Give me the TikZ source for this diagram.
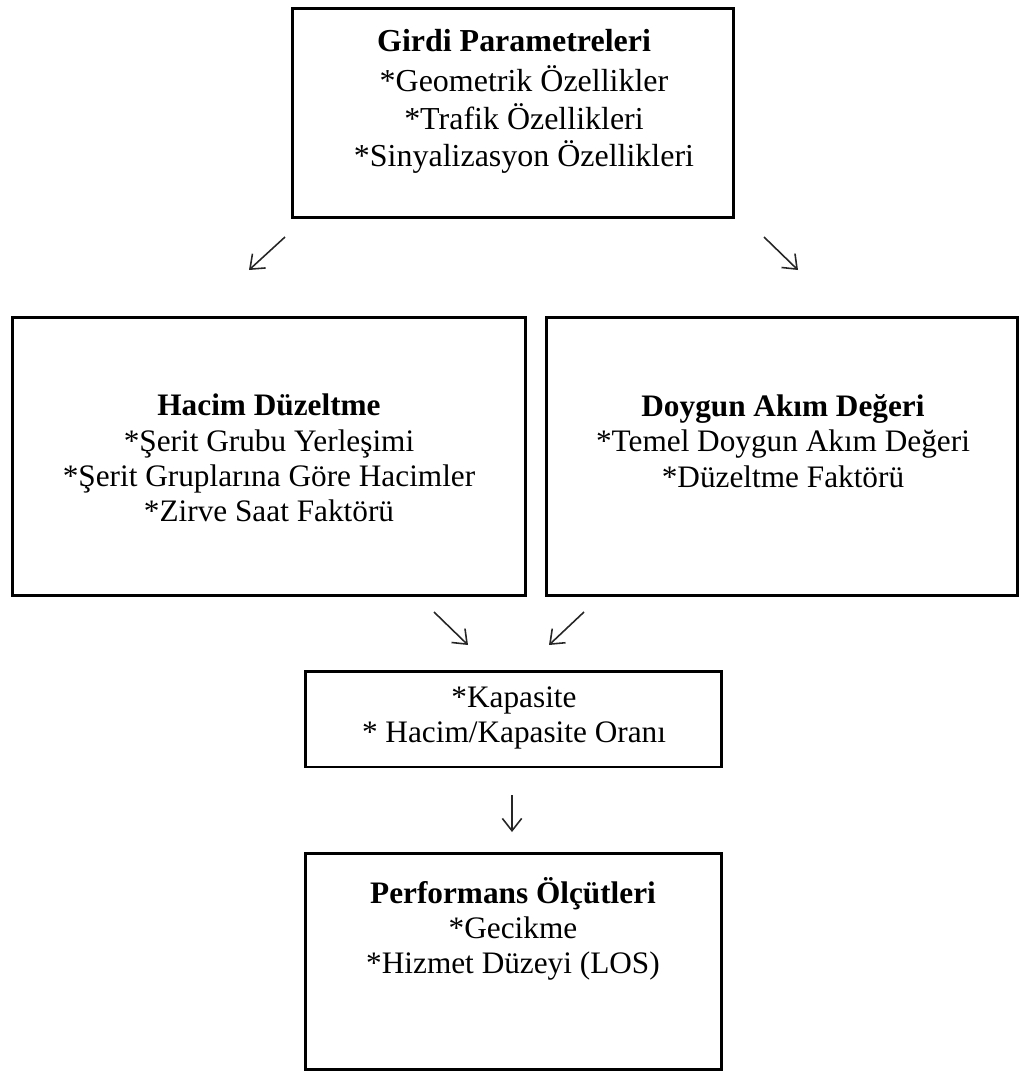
\documentclass[tikz,border=0pt]{standalone}
\usepackage{fontspec}
\setmainfont{Liberation Serif}
\usetikzlibrary{arrows.meta}
\begin{document}
\begin{tikzpicture}[x=0.02cm,y=-0.02cm,
  boxnode/.style={draw=black,line width=1.7pt,rectangle,inner sep=0pt},
  txt/.style={align=center,font=\fontsize{17.8}{20}\selectfont,inner sep=0pt},
  toptxtstyle/.style={align=center,font=\fontsize{18.2}{21.2}\selectfont,inner sep=0pt},
  arr/.style={line width=0.9pt,color=black!85,-{Straight Barb[length=7pt,width=11pt]}}]
\useasboundingbox (0,0) rectangle (1020,1083);
% boxes
\node[boxnode,minimum width=8.84cm,minimum height=4.2cm] (top) at (513,113) {};
\node[boxnode,minimum width=10.28cm,minimum height=5.58cm] (left) at (269,456.5) {};
\node[boxnode,minimum width=9.44cm,minimum height=5.58cm] (right) at (782,456.5) {};
\node[boxnode,minimum width=8.34cm,minimum height=1.92cm] (mid) at (513.5,719) {};
\node[boxnode,minimum width=8.34cm,minimum height=4.34cm] (bot) at (513.5,961.5) {};
% texts
\node[toptxtstyle] (toptxt) at (514,101) {\textbf{Girdi Parametreleri}\\[2pt]\hspace*{0.4cm}*Geometrik Özellikler\\\hspace*{0.4cm}*Trafik Özellikleri\\\hspace*{0.4cm}*Sinyalizasyon Özellikleri};
\node[txt] (lefttxt) at (269,458) {\textbf{Hacim Düzeltme}\\*Şerit Grubu Yerleşimi\\*Şerit Gruplarına Göre Hacimler\\*Zirve Saat Faktörü};
\node[txt] (righttxt) at (783,441) {\textbf{Doygun Akım Değeri}\\*Temel Doygun Akım Değeri\\*Düzeltme Faktörü};
\node[txt] (midtxt) at (514,718) {*Kapasite\\* Hacim/Kapasite Oranı};
\node[txt] (bottxt) at (513,929) {\textbf{Performans Ölçütleri}\\*Gecikme\\*Hizmet Düzeyi (LOS)};
% arrow end points
\coordinate (a1s) at (285,237); \coordinate (a1e) at (249,270);
\coordinate (a2s) at (764,237); \coordinate (a2e) at (798,270);
\coordinate (a3s) at (434,612); \coordinate (a3e) at (468,645);
\coordinate (a4s) at (584,612); \coordinate (a4e) at (549,645);
\coordinate (a5s) at (512,795); \coordinate (a5e) at (512,832);
\draw[arr] (a1s) -- (a1e);
\draw[arr] (a2s) -- (a2e);
\draw[arr] (a3s) -- (a3e);
\draw[arr] (a4s) -- (a4e);
\draw[arr] (a5s) -- (a5e);
\end{tikzpicture}
\end{document}
